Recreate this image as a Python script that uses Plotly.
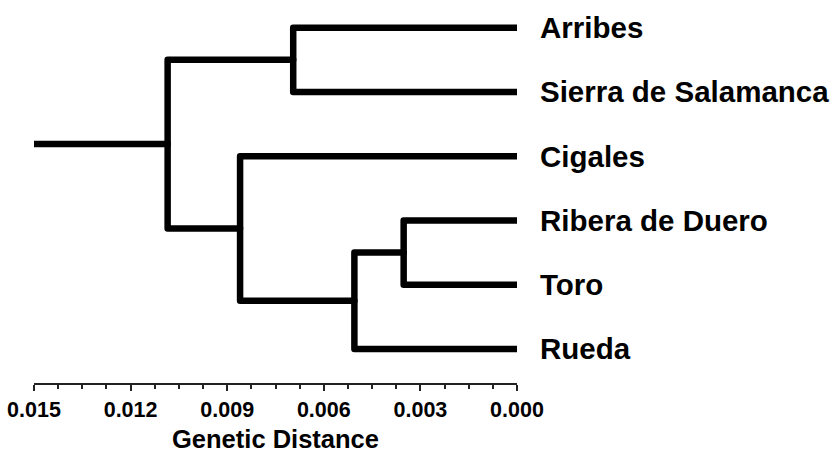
import plotly.graph_objects as go

# ---- data ----
leaf_labels = ["Arribes", "Sierra de Salamanca", "Cigales", "Ribera de Duero", "Toro", "Rueda"]
# merges: (left child, right child, height); children are leaf indices (0-5) or earlier merge ids (6+)
merge_left = [3, 6, 2, 0, 9]
merge_right = [4, 5, 7, 1, 8]
merge_height = [0.00352, 0.00505, 0.0086, 0.00695, 0.01085]
root_height = 0.015
tick_values = [0.015, 0.012, 0.009, 0.006, 0.003, 0.000]
axis_title = "Genetic Distance"

# ---- layout of nodes (leaf order top->bottom) ----
n_leaves = len(leaf_labels)
node_y = {i: float(i) for i in range(n_leaves)}
node_h = {i: 0.0 for i in range(n_leaves)}
xs, ys = [], []
for k, (a, b, h) in enumerate(zip(merge_left, merge_right, merge_height)):
    nid = n_leaves + k
    ya, yb = node_y[a], node_y[b]
    xs += [node_h[a], h, h, node_h[b], None]
    ys += [ya, ya, yb, yb, None]
    node_y[nid] = (ya + yb) / 2
    node_h[nid] = h
root = n_leaves + len(merge_height) - 1
xs += [node_h[root], root_height, None]
ys += [node_y[root], node_y[root], None]

FONT = "Liberation Sans, Arial, sans-serif"

fig = go.Figure()
fig.add_trace(go.Scatter(x=xs, y=ys, mode="lines",
                         line=dict(color="black", width=6.5),
                         hoverinfo="skip", showlegend=False, cliponaxis=False))

for i, lab in enumerate(leaf_labels):
    fig.add_annotation(x=0, y=i, xref="x", yref="y", text=lab, showarrow=False,
                       xanchor="left", yanchor="middle", xshift=21,
                       font=dict(family=FONT, size=29.5, color="black", weight="bold"))

fig.update_xaxes(range=[0.015, 0.0], autorange=False,
                 tickvals=tick_values, ticktext=[f"{v:.3f}" for v in tick_values],
                 showline=True, linecolor="#222", linewidth=1.5,
                 ticks="outside", ticklen=6, tickwidth=1.5, tickcolor="#222",
                 minor=dict(dtick=0.00075, tick0=0, ticks="outside", ticklen=4,
                            tickwidth=1.5, tickcolor="#222", showgrid=False),
                 showgrid=False, zeroline=False,
                 tickfont=dict(family=FONT, size=21.5, color="black", weight="bold"),
                 title=dict(text=axis_title, standoff=10,
                            font=dict(family=FONT, size=25.5, color="black", weight="bold")))
fig.update_yaxes(range=[5.53, -0.43], autorange=False, visible=False,
                 showgrid=False, zeroline=False)

fig.update_layout(width=834, height=453,
                  margin=dict(l=34, r=317, t=0, b=70),
                  paper_bgcolor="white", plot_bgcolor="white")

# remove the browser's default page margin and round the branch ends
post = (
    "document.body.style.margin='0';document.body.style.overflow='hidden';"
    "var s=document.createElement('style');"
    "s.textContent='.js-line{stroke-linecap:round !important;stroke-linejoin:round !important;}';"
    "document.head.appendChild(s);"
)
fig.write_html("out.html", config={"displayModeBar": False}, post_script=post)
